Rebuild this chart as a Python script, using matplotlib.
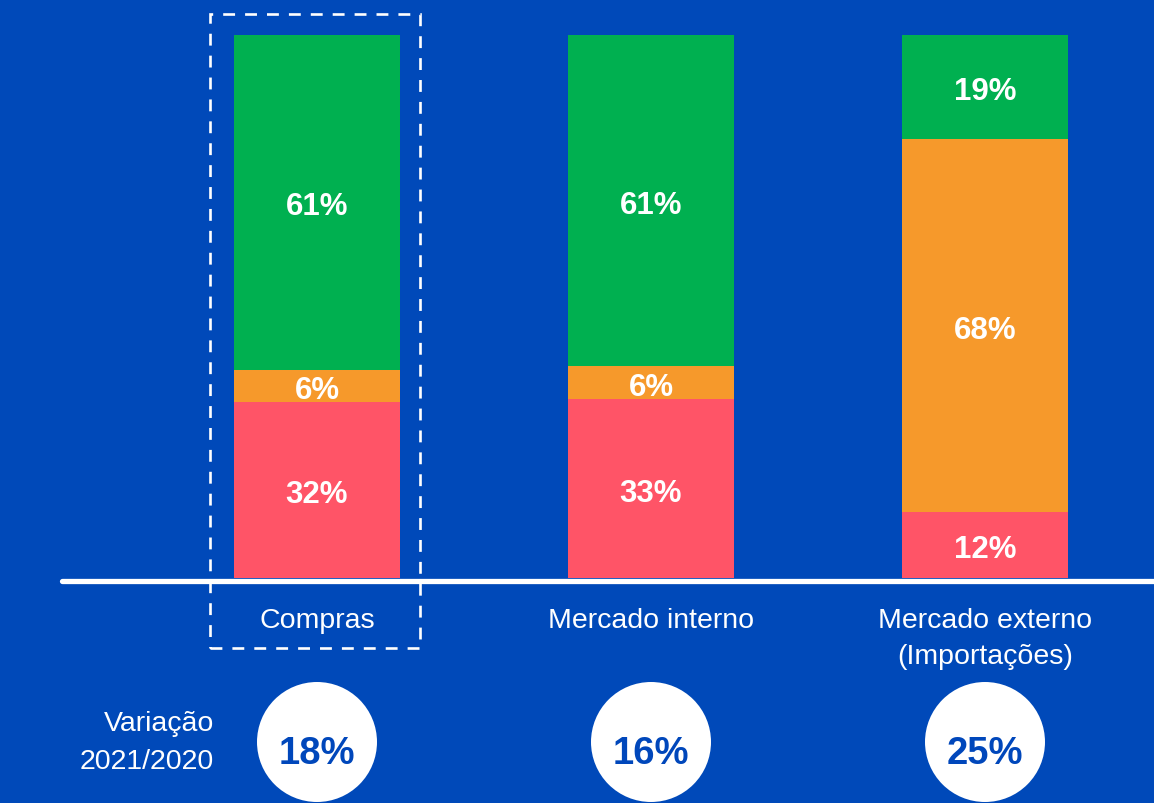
import matplotlib
matplotlib.use("Agg")
import matplotlib.pyplot as plt
from matplotlib.patches import Ellipse, Rectangle
import numpy as np

categories = ["Compras", "Mercado interno", "Mercado externo\n(Importações)"]
red_vals = [32, 33, 12]
orange_vals = [6, 6, 68]
green_vals = [61, 61, 19]
variation = ["18%", "16%", "25%"]
variation_title = "Variação\n2021/2020"

BG = "#0049B9"
GREEN = "#00B050"
ORANGE = "#F6992B"
RED = "#FF5467"
DARK = "#0047BB"

plt.rcParams['font.family'] = ['Liberation Sans', 'DejaVu Sans']

W, H = 1154, 804
fig = plt.figure(figsize=(W / 100, H / 100), dpi=100, facecolor=BG)

# layout in pixels
base_px = 579
top_px = 36
c0_px = 317
step_px = 334
ppu = (base_px - top_px) / 100.0

ax = fig.add_axes([0, 0, 1, 1])
ax.set_facecolor(BG)
ax.set_xlim(-c0_px / step_px, (W - c0_px) / step_px)
ax.set_ylim(-(H - base_px) / ppu, 100 + top_px / ppu)
ax.axis('off')

x = np.arange(len(categories))
red = np.array(red_vals, float)
orange = np.array(orange_vals, float)
green = np.array(green_vals, float)
tot = red + orange + green
r_h = red / tot * 100
o_h = orange / tot * 100
g_h = green / tot * 100

bw = 166 / step_px
ax.bar(x, r_h, bw, color=RED, zorder=2)
ax.bar(x, o_h, bw, bottom=r_h, color=ORANGE, zorder=2)
ax.bar(x, g_h, bw, bottom=r_h + o_h, color=GREEN, zorder=2)

lab_kw = dict(ha='center', va='center', color='white', fontsize=22.5,
              fontweight='bold', textcoords='offset points', xytext=(0, -3),
              zorder=5)
for i in range(len(categories)):
    ax.annotate(f"{red_vals[i]}%", (x[i], r_h[i] / 2), **lab_kw)
    ax.annotate(f"{orange_vals[i]}%", (x[i], r_h[i] + o_h[i] / 2), **lab_kw)
    ax.annotate(f"{green_vals[i]}%", (x[i], r_h[i] + o_h[i] + g_h[i] / 2), **lab_kw)

def py(p):
    # pixel row -> data y
    return (base_px - p) / ppu

def px(p):
    return (p - c0_px) / step_px

# baseline
ax.plot([px(62), px(W + 10)], [py(582), py(582)], color='white', lw=3.8,
        solid_capstyle='round', zorder=3)

# dashed box around first category
rect = Rectangle((px(210), py(649)), px(420) - px(210), py(15) - py(649),
                 fill=False, edgecolor='white', lw=1.9, linestyle=(0, (4.5, 3.8)),
                 zorder=4)
ax.add_patch(rect)

# category labels
for i, c in enumerate(categories):
    ax.text(x[i], py(608), c, ha='center', va='top', color='white',
            fontsize=20.5, linespacing=1.5)

# variation title
ax.text(px(214), py(743), variation_title, ha='right', va='center',
        color='white', fontsize=20.5, multialignment='right', linespacing=1.6)

# circles
r_px = 60
for i, v in enumerate(variation):
    e = Ellipse((x[i], py(743)), 2 * r_px / step_px, 2 * r_px / ppu,
                facecolor='white', edgecolor='none', zorder=3)
    ax.add_patch(e)
    ax.text(x[i], py(754), v, ha='center', va='center', color=DARK,
            fontsize=27.5, fontweight='bold', zorder=4)

fig.savefig("out.png", dpi=100, facecolor=BG)
